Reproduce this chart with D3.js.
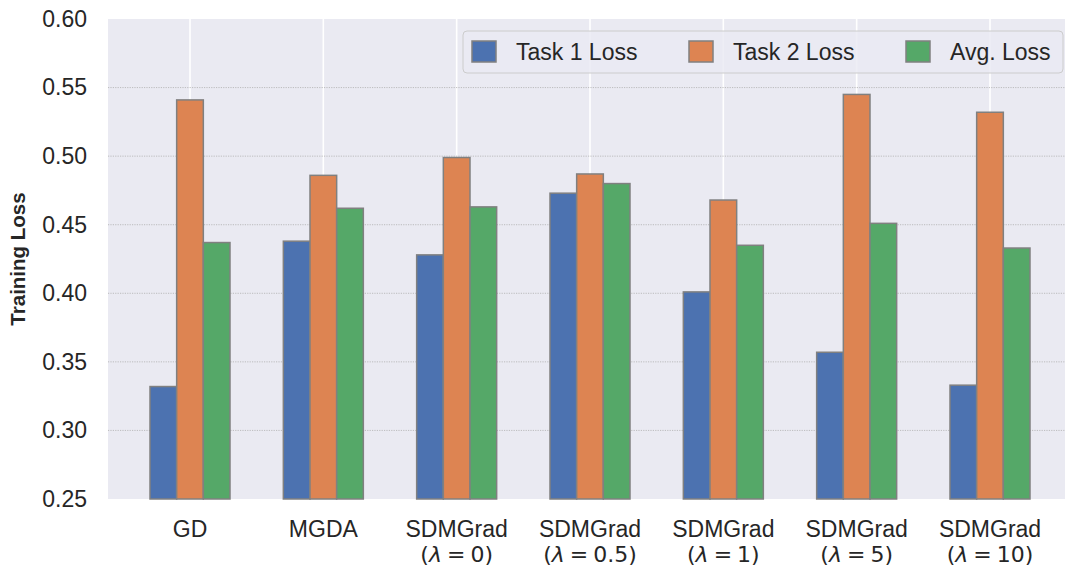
<!DOCTYPE html>
<html>
<head>
<meta charset="utf-8">
<script src="https://cdn.jsdelivr.net/npm/d3@7"></script>
<style>
body { margin: 0; background: #fff; }
svg { display: block; }
</style>
</head>
<body>
<svg id="chart"></svg>
<script>
// methods on the x axis (second line is the lambda value, "" if none)
const methods = ["GD", "MGDA", "SDMGrad", "SDMGrad", "SDMGrad", "SDMGrad", "SDMGrad"];
const lambdas = ["", "", "0", "0.5", "1", "5", "10"];
const seriesNames = ["Task 1 Loss", "Task 2 Loss", "Avg. Loss"];
const task1 = [0.332, 0.438, 0.428, 0.473, 0.401, 0.357, 0.333];
const task2 = [0.541, 0.486, 0.499, 0.487, 0.468, 0.545, 0.532];
const avgLoss = [0.437, 0.462, 0.463, 0.480, 0.435, 0.451, 0.433];
const yTicks = [0.25, 0.30, 0.35, 0.40, 0.45, 0.50, 0.55, 0.60];

const colors = ["#4C72B0", "#DD8452", "#55A868"];
const series = [task1, task2, avgLoss];

let width = 1065, height = 569;
let plotLeft = 108, plotTop = 19, plotBottom = 499;
let font = "Liberation Sans, Arial, sans-serif";
let svg = d3.select("#chart").attr("width", width).attr("height", height);

let x = d3.scaleLinear().domain([-0.615, 6.615]).range([plotLeft, 1072]);
let y = d3.scaleLinear().domain([0.25, 0.60]).range([plotBottom, plotTop]);
let barW = x(0.2) - x(0);

// background
svg.append("rect")
  .attr("x", plotLeft).attr("y", plotTop)
  .attr("width", x(6.615) - plotLeft).attr("height", plotBottom - plotTop)
  .attr("fill", "#EAEAF2");

// vertical white grid at categories
svg.append("g").selectAll("line")
  .data(d3.range(methods.length))
  .enter().append("line")
  .attr("x1", d => x(d)).attr("x2", d => x(d))
  .attr("y1", plotTop).attr("y2", plotBottom)
  .attr("stroke", "#fff").attr("stroke-width", 1.6);

// dotted horizontal grid
svg.append("g").selectAll("line")
  .data(yTicks.slice(1, -1))
  .enter().append("line")
  .attr("x1", plotLeft).attr("x2", width)
  .attr("y1", d => y(d)).attr("y2", d => y(d))
  .attr("stroke", "#b0b0b0").attr("stroke-width", 0.8)
  .attr("stroke-dasharray", "1.2,1.2");

// bars
series.forEach((vals, s) => {
  svg.append("g").selectAll("rect")
    .data(vals)
    .enter().append("rect")
    .attr("x", (d, i) => x(i + (s - 1) * 0.2 - 0.1))
    .attr("width", barW)
    .attr("y", d => y(d))
    .attr("height", d => plotBottom - y(d))
    .attr("fill", colors[s])
    .attr("stroke", "#808080")
    .attr("stroke-width", 1.5);
});

// y axis tick labels
let axisY = d3.axisLeft(y).tickValues(yTicks).tickFormat(d3.format(".2f")).tickSize(0).tickPadding(21);
let gy = svg.append("g").attr("transform", `translate(${plotLeft},0)`).call(axisY);
gy.select(".domain").remove();
gy.selectAll("text")
  .style("font-family", font)
  .style("font-size", "23px")
  .attr("fill", "#262626");

// x labels
let gx = svg.append("g");
methods.forEach((m, i) => {
  gx.append("text")
    .attr("x", x(i)).attr("y", 537)
    .attr("text-anchor", "middle")
    .style("font-family", font)
    .style("font-size", "23px")
    .attr("fill", "#262626")
    .text(m);
  if (lambdas[i] !== "") {
    let t2 = gx.append("text")
      .attr("x", x(i)).attr("y", 562)
      .attr("text-anchor", "middle")
      .style("font-family", "DejaVu Sans, sans-serif")
      .style("font-size", "22px")
      .attr("fill", "#262626");
    t2.append("tspan").text("(");
    t2.append("tspan").style("font-style", "italic").text("λ");
    t2.append("tspan").attr("dx", 5).text("=");
    t2.append("tspan").attr("dx", 5).text(lambdas[i] + ")");
  }
});

// y axis title
svg.append("text")
  .attr("transform", `translate(25, 259) rotate(-90)`)
  .attr("text-anchor", "middle")
  .style("font-family", font)
  .style("font-size", "20.5px")
  .style("font-weight", "bold")
  .attr("fill", "#262626")
  .text("Training Loss");

// legend
let lg = svg.append("g");
lg.append("rect")
  .attr("x", 463).attr("y", 31).attr("width", 600).attr("height", 42)
  .attr("rx", 4)
  .attr("fill", "#EAEAF2").attr("fill-opacity", 0.8)
  .attr("stroke", "#cccccc").attr("stroke-width", 1);
let legX = [472, 689, 906];
seriesNames.forEach((n, s) => {
  lg.append("rect")
    .attr("x", legX[s]).attr("y", 41).attr("width", 24).attr("height", 21)
    .attr("fill", colors[s]).attr("stroke", "#808080").attr("stroke-width", 1.5);
  lg.append("text")
    .attr("x", legX[s] + 44).attr("y", 60)
    .style("font-family", font)
    .style("font-size", "23px")
    .attr("fill", "#262626")
    .text(n);
});
</script>
</body>
</html>
